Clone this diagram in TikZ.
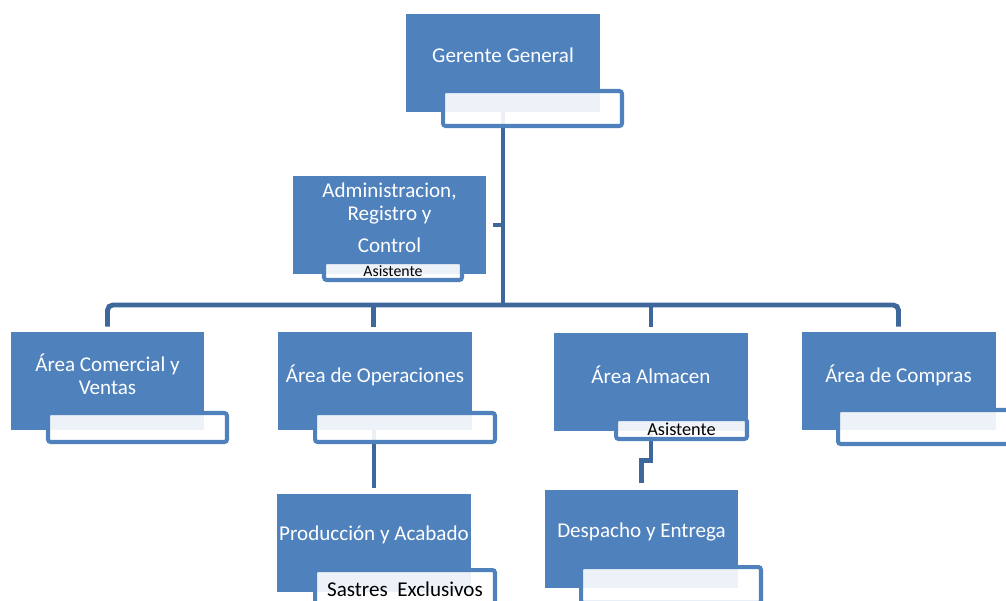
\documentclass[tikz,border=0pt]{standalone}
\usepackage{fontspec}
\setmainfont{Carlito}
\usetikzlibrary{backgrounds}
\definecolor{azul}{RGB}{79,129,189}
\definecolor{azulosc}{RGB}{62,104,156}
\tikzset{
	caja_az/.style = {rectangle, fill=azul, inner sep=0pt,
		minimum width=3.88cm, minimum height=1.96cm},% caja azul principal
	caja_sub/.style = {rectangle, draw=azul, line width=2.3pt, rounded corners=1.5pt,
		fill=white, fill opacity=0.9, text opacity=1, inner sep=0pt,
		font=\fontsize{12}{13}\selectfont},% caja secundaria
	txt_bl/.style = {align=center, white, inner sep=0pt,
		font=\fontsize{12}{13}\selectfont},% texto blanco
	conec/.style = {draw=azulosc, line width=2.8pt}% linea de union
}
\begin{document}
\begin{tikzpicture}[x=0.02cm, y=-0.02cm]
	\clip (0,0) rectangle (1006,600);
	\coordinate (bus) at (0,305);
	% cajas azules
	\node [caja_az] (gg)  at (503,62.5)   {};
	\node [caja_az] (adm) at (389.5,225)  {};
	\node [caja_az] (com) at (107.5,381)  {};
	\node [caja_az] (ope) at (375,381)    {};
	\node [caja_az] (alm) at (651,381.5)  {};
	\node [caja_az] (cmp) at (898.5,381)  {};
	\node [caja_az] (pro) at (374,543)    {};
	\node [caja_az] (des) at (641.5,538.5) {};
	% lineas (detras de las cajas)
	\begin{scope}[on background layer]
		\draw [conec] (gg.south) -- (gg.south |- bus);
		\draw [conec, shorten <=0.12cm] (adm.east) -- (adm.east -| gg.south);
		\draw [conec, rounded corners=3pt, shorten <=0.1cm, shorten >=0.1cm]
			(com.north) -- (com.north |- bus) -- (cmp.north |- bus) -- (cmp.north);
		\draw [conec, shorten >=0.1cm] ([xshift=-0.03cm]ope.north |- bus) -- ([xshift=-0.03cm]ope.north);
		\draw [conec, shorten >=0.1cm] (alm.north |- bus) -- (alm.north);
		\draw [conec, shorten >=0.12cm] ([xshift=-0.02cm]ope.south) -- ([xshift=-0.02cm]ope.south |- pro.north);
		\draw [conec, shorten >=0.12cm] (alm.south) -- ++(0,30) -| (des.north);
	\end{scope}
	% cajas secundarias
	\node [caja_sub, minimum width=3.58cm, minimum height=0.70cm] (gg_s)  at (532.5,108.5) {};
	\node [caja_sub, minimum width=2.76cm, minimum height=0.36cm,
		font=\fontsize{9}{9}\selectfont] (adm_s) at (393,271) {Asistente};
	\node [caja_sub, minimum width=3.58cm, minimum height=0.58cm] (com_s) at (137.5,427.5) {};
	\node [caja_sub, minimum width=3.60cm, minimum height=0.58cm] (ope_s) at (405,427.5) {};
	\node [caja_sub, minimum width=3.60cm, minimum height=0.76cm] (pro_s) at (405,589) {Sastres~~Exclusivos};
	\node [caja_sub, minimum width=2.62cm, minimum height=0.40cm,
		font=\fontsize{10.4}{10.4}\selectfont] (alm_s) at (681.5,429) {Asistente};
	\node [caja_sub, minimum width=3.60cm, minimum height=0.72cm] (des_s) at (671,585) {};
	\node [caja_sub, minimum width=3.60cm, minimum height=0.68cm] (cmp_s) at (928,427) {};
	% textos
	\node [txt_bl] (gg_t)  at (503,55)    {Gerente General};
	\node [txt_bl] (adm_t) at (389.5,218) {Administracion,\\Registro y\\[5.5pt]Control};
	\node [txt_bl] (com_t) at (107.5,374.5) {Área Comercial y\\Ventas};
	\node [txt_bl] (ope_t) at (375,375)   {Área de Operaciones};
	\node [txt_bl] (alm_t) at (651,375)   {Área Almacen};
	\node [txt_bl] (cmp_t) at (898.5,375) {Área de Compras};
	\node [txt_bl] (pro_t) at (374,535)   {Producción y Acabado};
	\node [txt_bl] (des_t) at (641.5,532) {Despacho y Entrega};
\end{tikzpicture}
\end{document}
